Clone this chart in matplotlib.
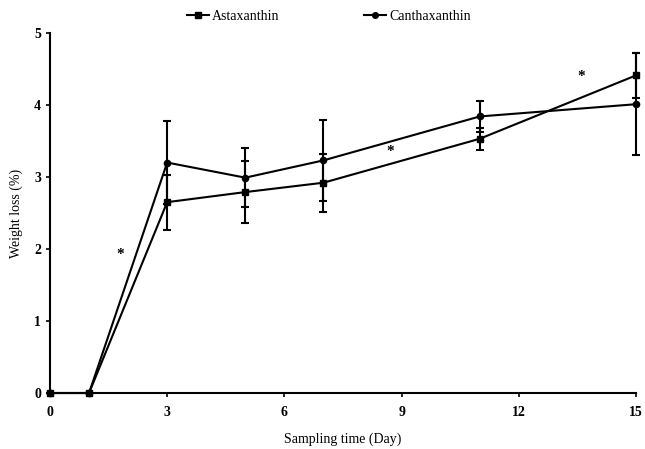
import matplotlib.pyplot as plt

plt.rcParams['font.family'] = ['Liberation Serif', 'DejaVu Serif']

# sampling days and weight loss (%) for each pigment
days = [0, 1, 3, 5, 7, 11, 15]
astaxanthin = [0, 0, 2.65, 2.79, 2.92, 3.53, 4.41]
astaxanthin_err = [0, 0, 0.38, 0.43, 0.40, 0.15, 0.31]
canthaxanthin = [0, 0, 3.20, 2.99, 3.23, 3.84, 4.01]
canthaxanthin_err = [0, 0, 0.58, 0.41, 0.56, 0.21, 0.71]

# significance marks
star_x = [1.8, 8.7, 13.6]
star_y = [1.92, 3.35, 4.40]

fig = plt.figure(figsize=(6.45, 4.49), dpi=100)
ax = fig.add_axes([0.0775, 0.1247, 0.9085, 0.802])

for y, err, mk, ms, name in [(astaxanthin, astaxanthin_err, 's', 5, 'Astaxanthin'),
                             (canthaxanthin, canthaxanthin_err, 'o', 4.5, 'Canthaxanthin')]:
    cont = ax.errorbar(days, y, yerr=err, color='black', marker=mk, markersize=ms,
                       linewidth=1.5, elinewidth=1.5, capsize=3, capthick=1.5, label=name)
    for art in [cont[0], *cont[1], *cont[2]]:
        art.set_clip_on(False)

for x, y in zip(star_x, star_y):
    ax.text(x, y, '*', ha='center', va='center', fontsize=11, fontweight='bold')

ax.set_xlim(0, 15)
ax.set_ylim(0, 5)
ax.set_xticks([0, 3, 6, 9, 12, 15])
ax.set_yticks([0, 1, 2, 3, 4, 5])
ax.spines['top'].set_visible(False)
ax.spines['right'].set_visible(False)
ax.spines['left'].set_linewidth(1.5)
ax.spines['bottom'].set_linewidth(1.5)
ax.tick_params(direction='out', length=3, width=1.2, labelsize=10)
ax.tick_params(axis='x', pad=6)
for lab in ax.get_xticklabels() + ax.get_yticklabels():
    lab.set_fontweight('bold')

ax.set_xlabel('Sampling time (Day)', fontsize=10, labelpad=10)
ax.set_ylabel('Weight loss (%)', fontsize=10, labelpad=8)

h, l = ax.get_legend_handles_labels()
h = [hh[0] for hh in h]
fig.legend(h, l, loc='upper center', bbox_to_anchor=(0.51, 1.005), ncol=2, frameon=False,
           fontsize=10, handlelength=1.6, handletextpad=0.2, columnspacing=6.1, markerscale=0.9)

fig.savefig('out.png', dpi=100)
